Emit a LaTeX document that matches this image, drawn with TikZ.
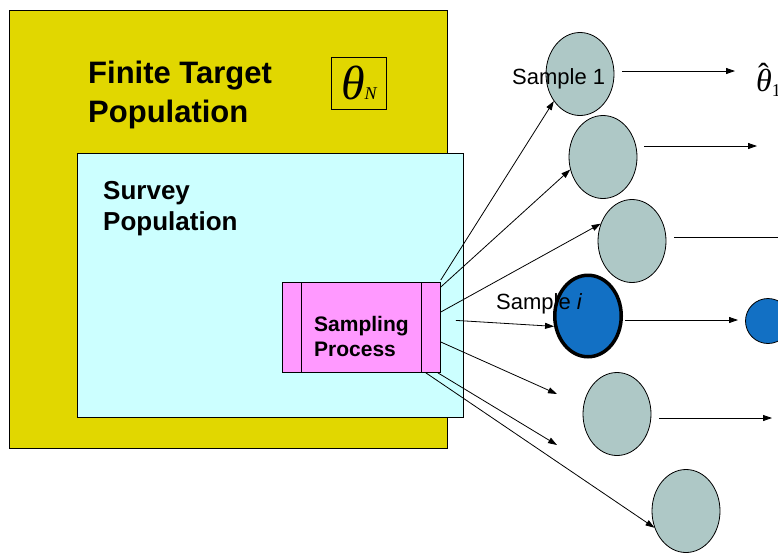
\documentclass[tikz,border=0pt]{standalone}
\usepackage{fontspec}
\setmainfont{Liberation Sans}
\newfontfamily\timesit{Liberation Serif}
\usetikzlibrary{arrows.meta, positioning, shapes.geometric}
\definecolor{popyellow}{RGB}{225,215,0}
\definecolor{popcyan}{RGB}{204,255,255}
\definecolor{procpink}{RGB}{255,153,255}
\definecolor{samplegray}{RGB}{174,200,198}
\definecolor{sampleblue}{RGB}{18,112,196}

\begin{document}
\begin{tikzpicture}
[x=1pt, y=-1pt,
->/.style={line width=0.8pt, arrows={-Triangle[length=9pt,width=6pt]}},
   popbox/.style={shape=rectangle, draw, line width=0.8pt, anchor=north west, inner sep=0pt},
   sampleC/.style={shape=ellipse, draw, line width=0.8pt, fill=samplegray, minimum width=68pt, minimum height=83pt, inner sep=0pt},
   boldtext/.style={anchor=base west, inner sep=0pt, align=left},
   plaintext/.style={anchor=base west, inner sep=0pt, font=\fontsize{22}{22}\selectfont}]
\path [use as bounding box, clip] (0,0) rectangle (778,552);
\node[popbox, fill=popyellow, minimum width=438pt, minimum height=438pt] (FTP) at (9,10) {};
\node[popbox, fill=popcyan, minimum width=386pt, minimum height=264pt] (SurP) at (77,153) {};
\node[popbox, fill=procpink, minimum width=158pt, minimum height=90pt] (SP) at (282,282) {};
\draw [line width=0.8pt] ([xshift=19pt]SP.north west) -- ([xshift=19pt]SP.south west);
\draw [line width=0.8pt] ([xshift=-19pt]SP.north east) -- ([xshift=-19pt]SP.south east);
\node[popbox, minimum width=55pt, minimum height=52pt] (thN) at (331,57)
{\timesit\itshape{\fontsize{48}{48}\selectfont θ}{\fontsize{18}{18}\selectfont N}};
% last line sits on the anchor
\node[boldtext, font=\fontsize{31}{39}\selectfont\bfseries] (FTPt) at (88,122) {Finite Target\\Population};
\node[boldtext, font=\fontsize{26}{31}\selectfont\bfseries] (SurPt) at (103,230) {Survey\\Population};
\node[boldtext, font=\fontsize{21}{24.5}\selectfont\bfseries] (SPt) at (314,356) {Sampling\\Process};
\node[sampleC] (C1) at (580,74) {};
\node[sampleC] (C2) at (603,157) {};
\node[sampleC] (C3) at (632,241) {};
\node[sampleC, fill=sampleblue, line width=3.5pt, minimum width=66.5pt, minimum height=81.5pt] (C4) at (588,316) {};
\node[sampleC] (C5) at (617,414) {};
\node[sampleC] (C6) at (686,511) {};
\node[shape=circle, draw, line width=0.8pt, fill=sampleblue, minimum size=45pt, inner sep=0pt] (B4) at (768,321) {};
\coordinate (o1) at ([yshift=2pt]SP.north east);
\coordinate (o2) at ([yshift=-5pt]SP.north east);
\coordinate (o3) at ([yshift=-30pt]SP.north east);
\coordinate (o4) at ([xshift=15pt, yshift=7pt]SP.east);
\coordinate (o5) at ([yshift=-60pt]SP.north east);
\coordinate (o6) at ([xshift=-3pt]SP.south east);
\coordinate (o7) at ([xshift=-15pt]SP.south east);
\coordinate (e5) at (557,394);
\coordinate (e6) at (557,445);
\draw [->] (o1) to (C1.226);
\draw [->] (o2) to (C2.201);
\draw [->] (o3) to (C3.151);
\draw [->] (o4) to (C4.197);
\draw [->] (o5) to (e5);
\draw [->] (o6) to (e6);
\draw [->] (o7) to (C6.208);
\foreach \n/\xa/\xb/\y in {1/622/735/71, 2/644/757/146, 3/674/800/237, 4/625/738/320, 5/659/772/418}{
  \coordinate (a\n) at (\xa,\y);
  \coordinate (b\n) at (\xb,\y);
  \draw [->] (a\n) to (b\n);
}
\node[plaintext] (S1) at (512,84) {Sample 1};
\node[plaintext] (Si) at (496,309) {Sample \textit{i}};
\node[anchor=base west, inner sep=0pt, font=\timesit\itshape\fontsize{32}{32}\selectfont] (th1) at (756,91)
{\rlap{\kern2pt\raisebox{6pt}{\upshape ˆ}}θ\raisebox{-5pt}{\upshape\fontsize{18}{18}\selectfont 1}};
\end{tikzpicture}
\end{document}
